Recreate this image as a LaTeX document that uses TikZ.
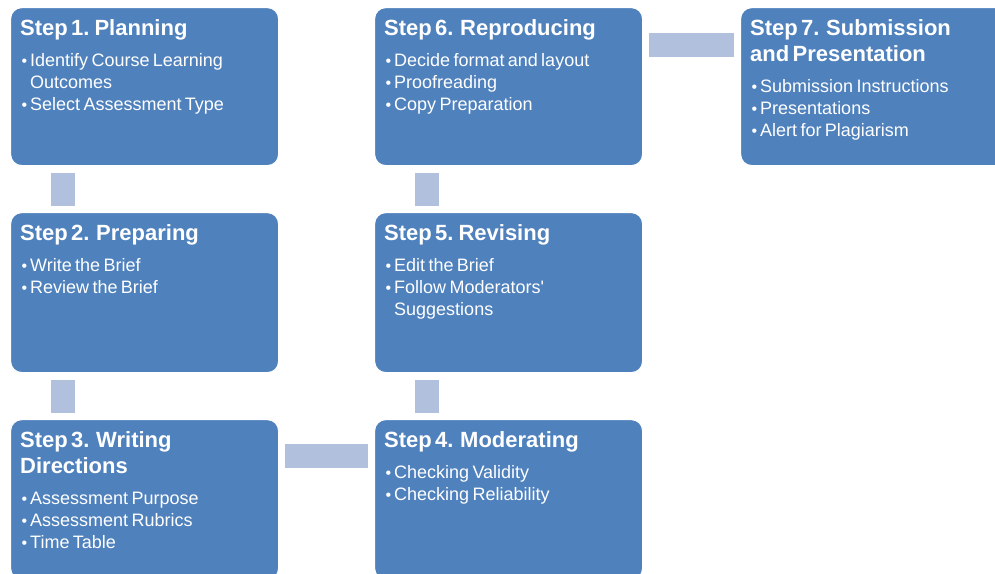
\documentclass[tikz,border=0pt]{standalone}
\usepackage{fontspec}
\setmainfont{Liberation Sans}
\definecolor{boxblue}{RGB}{79,129,189}
\definecolor{linkblue}{RGB}{177,192,220}
\hyphenpenalty=10000
\exhyphenpenalty=10000
\newcommand{\steptitle}[1]{{\fontsize{22}{26}\selectfont\bfseries #1\par}\vspace{9pt}}
\newcommand{\stepitem}[1]{{\fontsize{18}{22}\selectfont\hangindent=10pt\hangafter=1\noindent\hspace*{1.5pt}\makebox[8.5pt][l]{\fontsize{16}{16}\selectfont\textbullet}#1\par}}
\begin{document}
\begin{tikzpicture}[x=1pt,y=-1pt,
  stepbox/.style={draw=white,line width=1.2pt,fill=boxblue,rounded corners=11pt,
    anchor=north west,minimum width=268pt,inner sep=0pt},
  steptext/.style={anchor=base west,text=white,text width=250pt,align=left,inner sep=0pt},
  link/.style={draw=linkblue,line width=24pt}]
\useasboundingbox (0,0) rectangle (995,573);
\clip (0,0) rectangle (995,573);
\fill[white] (0,0) rectangle (995,573);

\node[stepbox,minimum height=158pt] (s1) at (10,7) {};
\node[stepbox,minimum height=160pt] (s2) at (10,212) {};
\node[stepbox,minimum height=160pt] (s3) at (10,419) {};
\node[stepbox,minimum height=160pt] (s4) at (374,419) {};
\node[stepbox,minimum height=160pt] (s5) at (374,212) {};
\node[stepbox,minimum height=158pt] (s6) at (374,7) {};
\node[stepbox,minimum height=158pt] (s7) at (740,7) {};

\node[steptext] (t1) at ([shift={(10pt,-28pt)}]s1.north west) {\steptitle{Step 1. Planning}
  \stepitem{Identify Course Learning Outcomes}\stepitem{Select Assessment Type}};
\node[steptext] (t2) at ([shift={(10pt,-28pt)}]s2.north west) {\steptitle{Step 2.\ \ Preparing}
  \stepitem{Write the Brief}\stepitem{Review the Brief}};
\node[steptext] (t3) at ([shift={(10pt,-28pt)}]s3.north west) {\steptitle{Step 3.\ \ Writing\\Directions}
  \stepitem{Assessment Purpose}\stepitem{Assessment Rubrics}\stepitem{Time Table}};
\node[steptext] (t4) at ([shift={(10pt,-28pt)}]s4.north west) {\steptitle{Step 4.\ \ Moderating}
  \stepitem{Checking Validity}\stepitem{Checking Reliability}};
\node[steptext] (t5) at ([shift={(10pt,-28pt)}]s5.north west) {\steptitle{Step 5. Revising}
  \stepitem{Edit the Brief}\stepitem{Follow Moderators\textquotesingle{} Suggestions}};
\node[steptext] (t6) at ([shift={(10pt,-28pt)}]s6.north west) {\steptitle{Step 6.\ \ Reproducing}
  \stepitem{Decide format and layout}\stepitem{Proofreading}\stepitem{Copy Preparation}};
\node[steptext] (t7) at ([shift={(10pt,-28pt)}]s7.north west) {\steptitle{Step 7.\ \ Submission\\and Presentation}
  \stepitem{Submission Instructions}\stepitem{Presentations}\stepitem{Alert for Plagiarism}};

\draw[link] ([shift={(53pt,-7pt)}]s1.south west) -- ([shift={(53pt,6pt)}]s2.north west);
\draw[link] ([shift={(53pt,-7pt)}]s2.south west) -- ([shift={(53pt,6pt)}]s3.north west);
\draw[link] ([shift={(6pt,-37pt)}]s3.north east) -- ([shift={(-6pt,-37pt)}]s4.north west);
\draw[link] ([shift={(53pt,6pt)}]s4.north west) -- ([shift={(53pt,-7pt)}]s5.south west);
\draw[link] ([shift={(53pt,6pt)}]s5.north west) -- ([shift={(53pt,-7pt)}]s6.south west);
\draw[link] ([shift={(6pt,-38pt)}]s6.north east) -- ([shift={(-6pt,-38pt)}]s7.north west);
\end{tikzpicture}
\end{document}
